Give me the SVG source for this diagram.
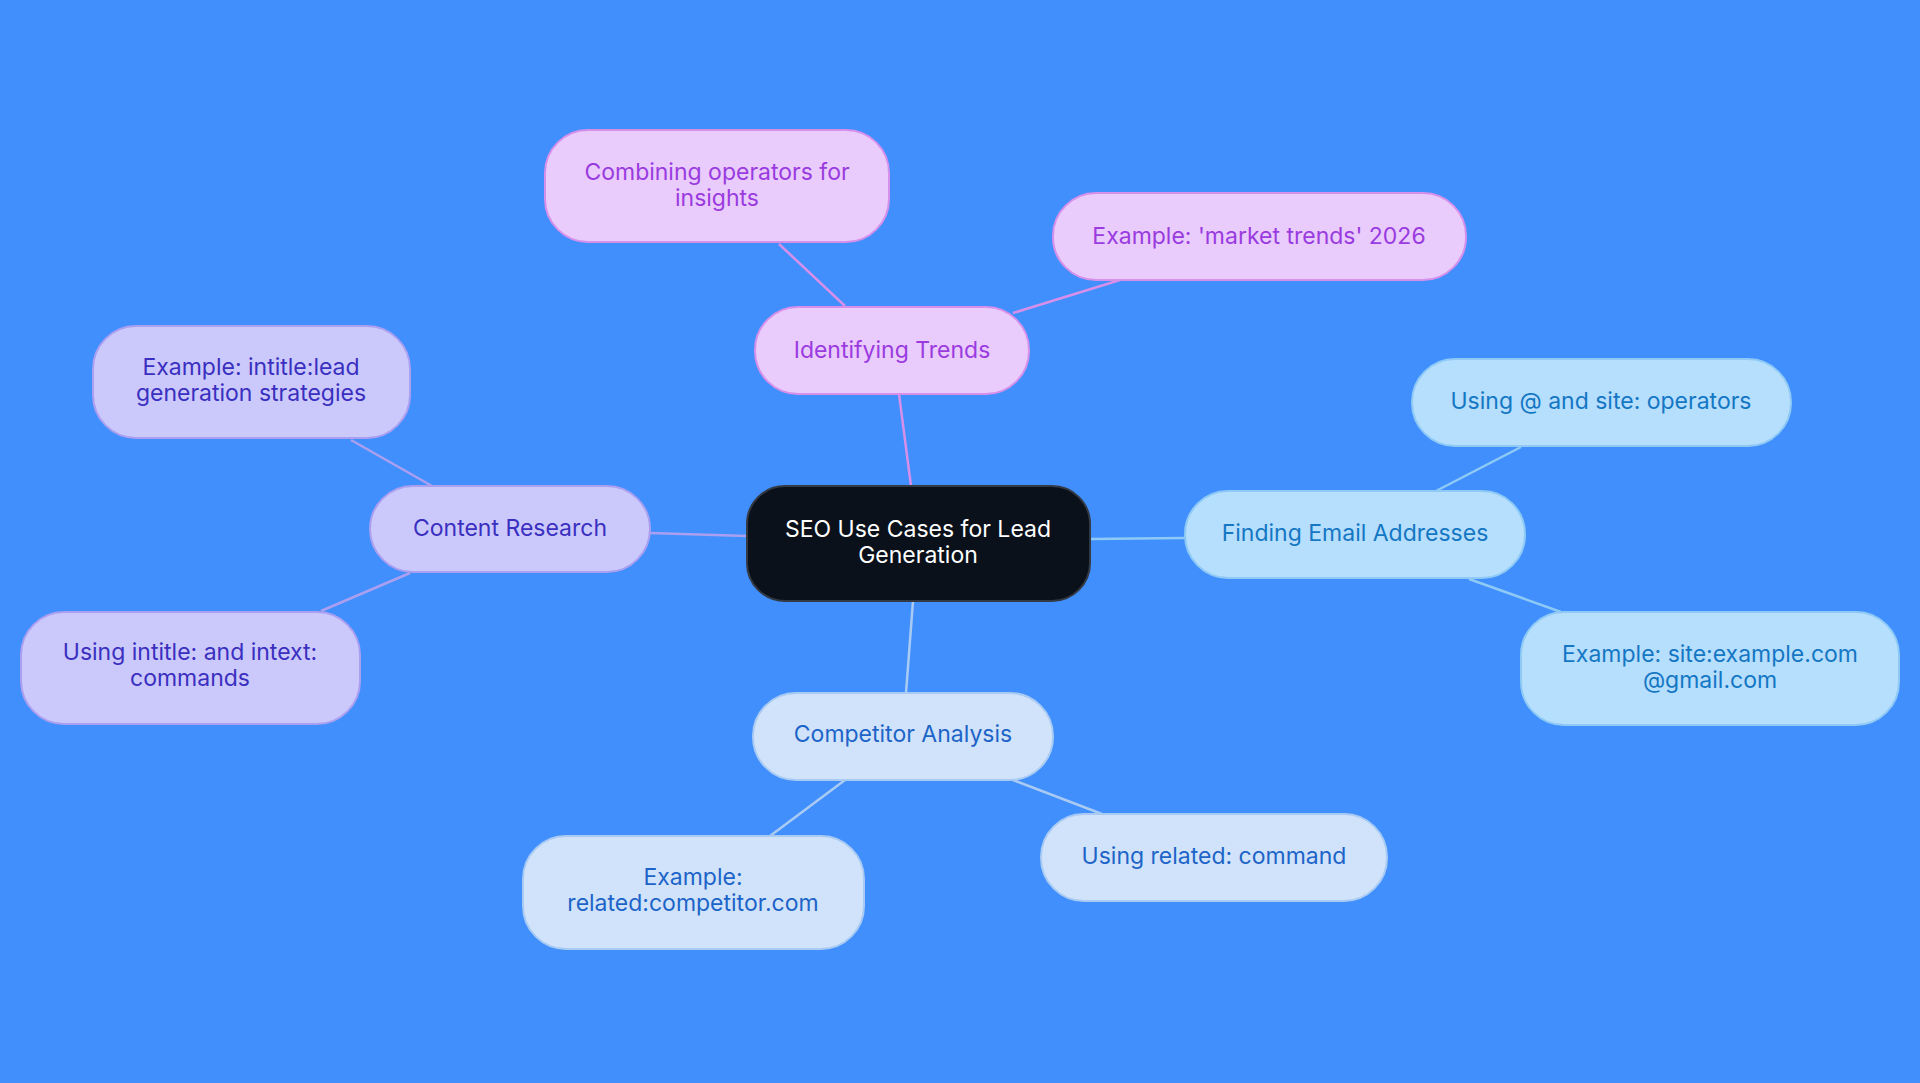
<svg xmlns="http://www.w3.org/2000/svg" width="1920" height="1083" viewBox="0 0 1920 1083">
<style>
text{font-family:Inter,"Noto Sans",sans-serif;font-size:23px;text-anchor:middle;dominant-baseline:central}
.c line{stroke-width:2.5}
.t rect{fill:#e9cbfc;stroke:#d690ea;stroke-width:2}.t text{fill:#9a3be0}
.r rect{fill:#cbc9fb;stroke:#ab9ff0;stroke-width:2}.r text{fill:#3a2fc0}
.e rect{fill:#b6defd;stroke:#8ecaf5;stroke-width:2}.e text{fill:#1477c4}
.a rect{fill:#d0e3fa;stroke:#a9cbf3;stroke-width:2}.a text{fill:#1d64c8}
</style>
<rect width="1920" height="1083" fill="#418ffd"/>
<g class="c" id="connectors">
<line x1="911" y1="486" x2="899" y2="394" stroke="#d690ea"/>
<line x1="845" y1="306" x2="779" y2="244" stroke="#d690ea"/>
<line x1="1013" y1="313" x2="1120" y2="280" stroke="#d690ea"/>
<line x1="747" y1="536" x2="650" y2="533" stroke="#ab9ff0"/>
<line x1="432" y1="486" x2="351" y2="440" stroke="#ab9ff0"/>
<line x1="410" y1="573" x2="321" y2="611" stroke="#ab9ff0"/>
<line x1="1090" y1="539" x2="1185" y2="538" stroke="#8ecaf5"/>
<line x1="1436" y1="491" x2="1521" y2="447" stroke="#8ecaf5"/>
<line x1="1469" y1="579" x2="1561" y2="612" stroke="#8ecaf5"/>
<line x1="913" y1="601" x2="906" y2="693" stroke="#a9cbf3"/>
<line x1="845" y1="780" x2="770" y2="836" stroke="#a9cbf3"/>
<line x1="1013" y1="780" x2="1102" y2="814" stroke="#a9cbf3"/>
</g>
<g id="center"><rect x="747" y="486" width="343" height="115" rx="38" fill="#0b111b" stroke="#333a44" stroke-width="2"/><text x="918" y="529" fill="#fff">SEO Use Cases for Lead</text><text x="918" y="555" fill="#fff">Generation</text></g>
<g id="trends" class="t"><rect x="755" y="307" width="274" height="87" rx="43"/><text x="892" y="350">Identifying Trends</text></g>
<g id="combining" class="t"><rect x="545" y="130" width="344" height="112" rx="43"/><text x="717" y="172">Combining operators for</text><text x="717" y="198">insights</text></g>
<g id="market" class="t"><rect x="1053" y="193" width="413" height="87" rx="43"/><text x="1259" y="236">Example: 'market trends' 2026</text></g>
<g id="content" class="r"><rect x="370" y="486" width="280" height="86" rx="43"/><text x="510" y="528">Content Research</text></g>
<g id="intitle-ex" class="r"><rect x="93" y="326" width="317" height="112" rx="43"/><text x="251" y="367">Example: intitle:lead</text><text x="251" y="393">generation strategies</text></g>
<g id="intitle-use" class="r"><rect x="21" y="612" width="339" height="112" rx="43"/><text x="190" y="652">Using intitle: and intext:</text><text x="190" y="678">commands</text></g>
<g id="email" class="e"><rect x="1185" y="491" width="340" height="87" rx="43"/><text x="1355" y="533">Finding Email Addresses</text></g>
<g id="at-site" class="e"><rect x="1412" y="359" width="379" height="87" rx="43"/><text x="1601" y="401">Using @ and site: operators</text></g>
<g id="site-ex" class="e"><rect x="1521" y="612" width="378" height="113" rx="43"/><text x="1710" y="654">Example: site:example.com</text><text x="1710" y="680">@gmail.com</text></g>
<g id="competitor" class="a"><rect x="753" y="693" width="300" height="87" rx="43"/><text x="903" y="734">Competitor Analysis</text></g>
<g id="related-ex" class="a"><rect x="523" y="836" width="341" height="113" rx="43"/><text x="693" y="877">Example:</text><text x="693" y="903">related:competitor.com</text></g>
<g id="related-use" class="a"><rect x="1041" y="814" width="346" height="87" rx="43"/><text x="1214" y="856">Using related: command</text></g>
</svg>
